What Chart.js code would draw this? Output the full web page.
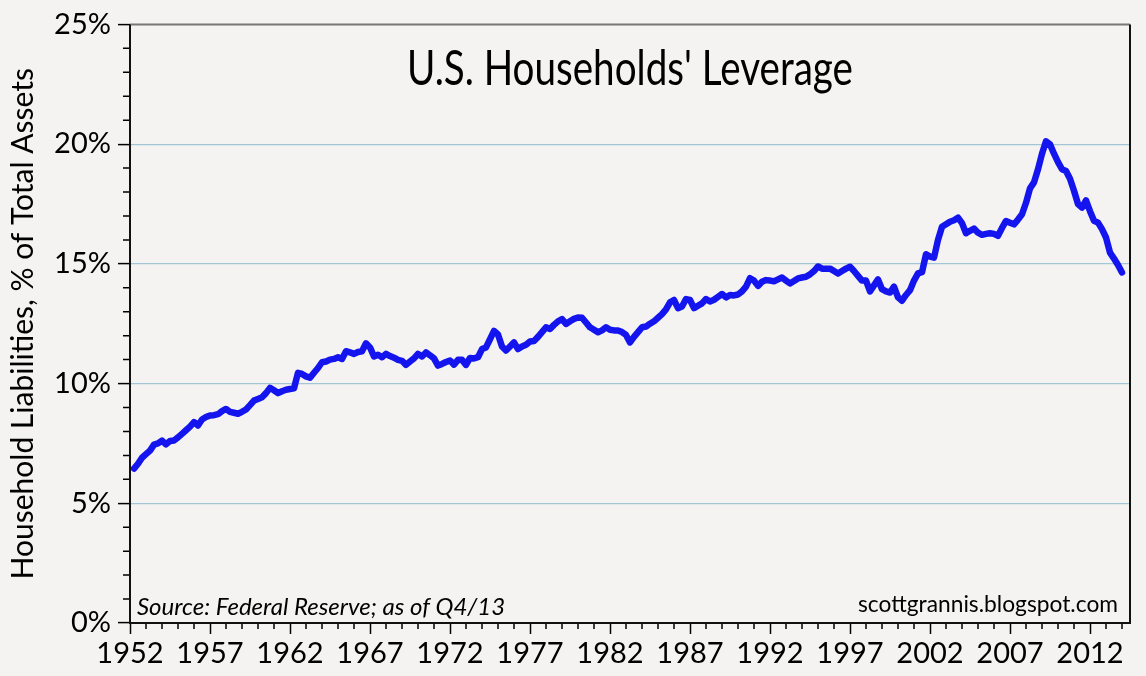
<!DOCTYPE html>
<html>
<head>
<meta charset="utf-8">
<script src="https://cdn.jsdelivr.net/npm/chart.js@4.4.1/dist/chart.umd.min.js"></script>
<style>
  html, body { margin: 0; padding: 0; background: #f4f3f1; }
  #wrap { width: 1146px; height: 676px; }
</style>
</head>
<body>
<div id="wrap"><canvas id="leverage-canvas"></canvas></div>
<script>
const lineColor = '#1414ee';
const gridColor = '#a3c6d6';

// quarterly data, first value is Q1 1952
const startYear = 1952;
const leverage = [
    6.45, 6.65, 6.9, 7.05,      // 1952
    7.2, 7.45, 7.5, 7.62,       // 1953
    7.46, 7.6, 7.62, 7.75,      // 1954
    7.9, 8.05, 8.2, 8.39,       // 1955
    8.25, 8.5, 8.6, 8.67,       // 1956
    8.68, 8.72, 8.85, 8.94,     // 1957
    8.82, 8.78, 8.74, 8.82,     // 1958
    8.92, 9.1, 9.29, 9.36,      // 1959
    9.43, 9.6, 9.82, 9.72,      // 1960
    9.6, 9.68, 9.74, 9.77,      // 1961
    9.8, 10.45, 10.4, 10.3,     // 1962
    10.24, 10.45, 10.65, 10.89, // 1963
    10.92, 11.0, 11.03, 11.1,   // 1964
    11.03, 11.35, 11.3, 11.24,  // 1965
    11.32, 11.35, 11.68, 11.51, // 1966
    11.13, 11.2, 11.1, 11.24,   // 1967
    11.15, 11.08, 10.99, 10.95, // 1968
    10.78, 10.92, 11.05, 11.24, // 1969
    11.13, 11.3, 11.18, 11.05,  // 1970
    10.75, 10.82, 10.9, 10.96,  // 1971
    10.79, 10.99, 10.99, 10.78, // 1972
    11.07, 11.05, 11.1, 11.44,  // 1973
    11.51, 11.85, 12.2, 12.05,  // 1974
    11.55, 11.38, 11.55, 11.72, // 1975
    11.44, 11.55, 11.62, 11.76, // 1976
    11.78, 11.95, 12.15, 12.35, // 1977
    12.28, 12.45, 12.6, 12.69,  // 1978
    12.49, 12.6, 12.7, 12.76,   // 1979
    12.75, 12.55, 12.35, 12.25, // 1980
    12.14, 12.22, 12.35, 12.25, // 1981
    12.22, 12.22, 12.15, 12.03, // 1982
    11.72, 11.95, 12.15, 12.35, // 1983
    12.38, 12.5, 12.6, 12.75,   // 1984
    12.9, 13.1, 13.39, 13.49,   // 1985
    13.15, 13.22, 13.53, 13.49, // 1986
    13.15, 13.25, 13.35, 13.53, // 1987
    13.43, 13.5, 13.62, 13.74,  // 1988
    13.6, 13.7, 13.68, 13.72,   // 1989
    13.85, 14.05, 14.4, 14.3,   // 1990
    14.08, 14.25, 14.32, 14.3,  // 1991
    14.27, 14.35, 14.43, 14.3,  // 1992
    14.18, 14.28, 14.39, 14.43, // 1993
    14.46, 14.56, 14.7, 14.89,  // 1994
    14.8, 14.8, 14.8, 14.7,     // 1995
    14.6, 14.7, 14.8, 14.88,    // 1996
    14.7, 14.5, 14.3, 14.3,     // 1997
    13.85, 14.1, 14.35, 13.94,  // 1998
    13.85, 13.8, 14.05, 13.6,   // 1999
    13.46, 13.7, 13.9, 14.3,    // 2000
    14.6, 14.65, 15.4, 15.3,    // 2001
    15.26, 16.0, 16.55, 16.65,  // 2002
    16.76, 16.82, 16.93, 16.7,  // 2003
    16.28, 16.38, 16.47, 16.3,  // 2004
    16.21, 16.25, 16.28, 16.25, // 2005
    16.17, 16.5, 16.79, 16.72,  // 2006
    16.65, 16.85, 17.07, 17.55, // 2007
    18.15, 18.4, 18.95, 19.6,   // 2008
    20.12, 19.99, 19.6, 19.25,  // 2009
    18.95, 18.88, 18.55, 18.05, // 2010
    17.5, 17.35, 17.65, 17.2,   // 2011
    16.8, 16.72, 16.45, 16.1,   // 2012
    15.47, 15.22, 14.95, 14.64  // 2013
];

const xTickYears = [1952, 1957, 1962, 1967, 1972, 1977, 1982, 1987, 1992, 1997, 2002, 2007, 2012];
const yTickValues = [0, 5, 10, 15, 20, 25];

const titleText = "U.S. Households' Leverage";
const sourceText = 'Source: Federal Reserve; as of Q4/13';
const blogText = 'scottgrannis.blogspot.com';

// each point sits at the end of its quarter
const points = leverage.map((v, i) => ({ x: startYear + (i + 1) / 4, y: v }));

const decorations = {
    id: 'decorations',
    afterDraw: (chart) => {
        const ctx = chart.ctx;
        const a = chart.chartArea;
        const xs = chart.scales.x;
        const ys = chart.scales.y;
        ctx.save();

        // minor ticks: every year / every 1%
        ctx.strokeStyle = '#000';
        ctx.lineWidth = 1.5;
        ctx.beginPath();
        for (let yr = 1953; yr <= 2014; yr++) {
            if ((yr - 1952) % 5 == 0) continue;
            let px = xs.getPixelForValue(yr);
            ctx.moveTo(px, a.bottom);
            ctx.lineTo(px, a.bottom + 6);
        }
        for (let p = 1; p < 25; p++) {
            if (p % 5 == 0) continue;
            let py = ys.getPixelForValue(p);
            ctx.moveTo(a.left, py);
            ctx.lineTo(a.left - 7, py);
        }
        ctx.stroke();

        // frame
        ctx.lineWidth = 2;
        ctx.strokeStyle = '#777';
        ctx.beginPath();
        ctx.moveTo(a.left, a.top);
        ctx.lineTo(a.right, a.top);
        ctx.stroke();
        ctx.strokeStyle = '#111';
        ctx.beginPath();
        ctx.moveTo(a.right, a.top);
        ctx.lineTo(a.right, a.bottom);
        ctx.lineTo(a.left, a.bottom);
        ctx.lineTo(a.left, a.top);
        ctx.stroke();

        // texts inside the plot
        ctx.fillStyle = '#000';
        ctx.textBaseline = 'alphabetic';
        ctx.textAlign = 'center';
        ctx.font = '48px Lato';
        ctx.fillText(titleText, (a.left + a.right) / 2, a.top + 61, 446);
        ctx.textAlign = 'left';
        ctx.font = 'italic 24px Lato';
        ctx.fillText(sourceText, a.left + 7, a.bottom - 8, 382);
        ctx.textAlign = 'right';
        ctx.font = '24px Lato';
        ctx.fillText(blogText, a.right - 12, a.bottom - 11, 260);
        ctx.restore();
    }
};

document.addEventListener('DOMContentLoaded', () => {
    Chart.defaults.font.family = 'Lato';
    Chart.defaults.color = '#000';
    new Chart(document.getElementById('leverage-canvas'), {
        type: 'line',
        data: {
            datasets: [{
                data: points,
                borderColor: lineColor,
                borderWidth: 6.5,
                borderJoinStyle: 'round',
                borderCapStyle: 'round',
                pointRadius: 0,
                tension: 0,
                clip: false
            }]
        },
        options: {
            responsive: true,
            maintainAspectRatio: false,
            animation: false,
            layout: { padding: { top: 23, right: 16, left: 0, bottom: 0 } },
            plugins: { legend: { display: false }, tooltip: { enabled: false } },
            scales: {
                x: {
                    type: 'linear',
                    min: 1952,
                    max: 2014.5,
                    afterBuildTicks: (s) => { s.ticks = xTickYears.map(v => ({ value: v })); },
                    afterFit: (s) => { s.height = 53; },
                    ticks: {
                        includeBounds: false,
                        autoSkip: false,
                        maxRotation: 0,
                        padding: 2,
                        font: { size: 29 },
                        callback: (v) => String(v)
                    },
                    grid: {
                        drawOnChartArea: false,
                        tickLength: 11,
                        tickWidth: 1.5,
                        tickColor: '#000'
                    },
                    border: { display: false }
                },
                y: {
                    min: 0,
                    max: 25,
                    afterBuildTicks: (s) => { s.ticks = yTickValues.map(v => ({ value: v })); },
                    afterFit: (s) => { s.width = 130; },
                    ticks: {
                        padding: 7,
                        font: { size: 29 },
                        callback: (v) => v + '%'
                    },
                    grid: {
                        color: (c) => (c.tick && c.tick.value > 0 && c.tick.value < 25) ? gridColor : 'rgba(0,0,0,0)',
                        lineWidth: 1.2,
                        tickLength: 12,
                        tickWidth: 1.5,
                        tickColor: '#000'
                    },
                    border: { display: false },
                    title: {
                        display: true,
                        text: 'Household Liabilities, % of Total Assets',
                        font: { size: 30 },
                        padding: { top: 5, bottom: 0 }
                    }
                }
            }
        },
        plugins: [decorations]
    });
});
</script>
</body>
</html>
